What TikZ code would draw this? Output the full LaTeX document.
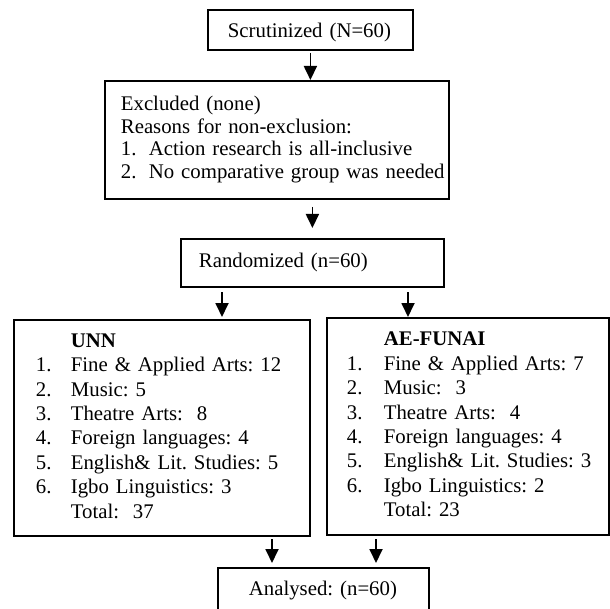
\documentclass[tikz,border=0pt]{standalone}
\usepackage{fontspec}
\setmainfont{Liberation Serif}
\usepackage{tikz}
\usetikzlibrary{arrows.meta}

\begin{document}
\begin{tikzpicture}[x=0.5pt, y=-0.5pt,
    box/.style={draw=black, line width=0.9pt, anchor=north west, align=left,
        inner ysep=0pt, font=\fontsize{10.4}{12.2}\selectfont\frenchspacing},
    arr/.style={line width=0.9pt, -{Triangle[width=6.5pt,length=7pt]}}]
    \useasboundingbox (0,0) rectangle (610,609);
    \node[box, text width=82.5pt, inner xsep=10pt, minimum height=20pt] (scrut) at (207,9)
        {\begin{tabular}{@{}l@{}}\raisebox{-1.5pt}{Scrutinized (N=60)}\end{tabular}};
    \node[box, text width=156pt, inner xsep=8pt, minimum height=59pt,
        font=\fontsize{10.4}{11.25}\selectfont\frenchspacing] (excl) at (104,80)
        {\begin{tabular}{@{}p{14pt}@{}l@{}}
        \multicolumn{2}{@{}l@{}}{Excluded (none)}\\
        \multicolumn{2}{@{}l@{}}{Reasons for non-exclusion:}\\
        1. & Action research is all-inclusive\\
        2. & No comparative group was needed
        \end{tabular}};
    \node[box, text width=113.5pt, inner xsep=9pt, minimum height=24pt] (rand) at (180,238)
        {\begin{tabular}{@{}l@{}}Randomized (n=60)\end{tabular}};
    \node[box, text width=126pt, inner xsep=11pt, minimum height=108pt] (unn) at (13,319)
        {\begin{tabular}{@{}p{17.5pt}@{}l@{}}
        & \textbf{UNN}\\
        1. & Fine \& Applied Arts: 12\\
        2. & Music: 5\\
        3. & Theatre Arts:\ \ 8\\
        4. & Foreign languages: 4\\
        5. & English\& Lit. Studies: 5\\
        6. & Igbo Linguistics: 3\\
        & Total:\ \ 37
        \end{tabular}};
    \node[box, text width=121pt, inner xsep=10pt, minimum height=108.5pt] (funai) at (326,317)
        {\begin{tabular}{@{}p{18.5pt}@{}l@{}}
        & \textbf{AE-FUNAI}\\
        1. & Fine \& Applied Arts: 7\\
        2. & Music:\ \ 3\\
        3. & Theatre Arts:\ \ 4\\
        4. & Foreign languages: 4\\
        5. & English\& Lit. Studies: 3\\
        6. & Igbo Linguistics: 2\\
        & Total: 23
        \end{tabular}};
    \node[box, text width=74.5pt, inner xsep=15.5pt, minimum height=23pt] (ana) at (217,567)
        {\begin{tabular}{@{}l@{}}Analysed: (n=60)\end{tabular}};
    \coordinate (r1) at (222,292);
    \coordinate (r2) at (408,292);
    \coordinate (b1) at (272,539);
    \coordinate (b2) at (376,539);
    \draw[arr] ([yshift=-1pt]scrut.south) -- (scrut.south |- excl.north);
    \draw[arr, shorten <=3.5pt, shorten >=5pt] (rand.north |- excl.south) -- (rand.north);
    \draw[arr, shorten >=1pt] (r1) -- (r1 |- unn.north);
    \draw[arr] (r2) -- (r2 |- funai.north);
    \draw[arr, shorten >=2pt] (b1) -- (b1 |- ana.north);
    \draw[arr, shorten >=2pt] (b2) -- (b2 |- ana.north);
\end{tikzpicture}
\end{document}
